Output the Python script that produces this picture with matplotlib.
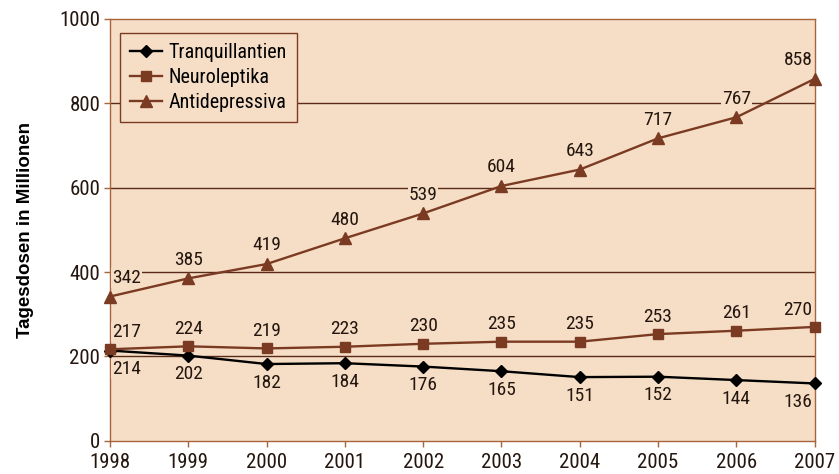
import numpy as np
import matplotlib
matplotlib.use("Agg")
import matplotlib.pyplot as plt

years = [1998, 1999, 2000, 2001, 2002, 2003, 2004, 2005, 2006, 2007]
tranq = [214, 202, 182, 184, 176, 165, 151, 152, 144, 136]
neuro = [217, 224, 219, 223, 230, 235, 235, 253, 261, 270]
antidep = [342, 385, 419, 480, 539, 604, 643, 717, 767, 858]
yticks = [0, 200, 400, 600, 800, 1000]

BG = "#f6dec6"
BROWN = "#7b3a22"
FRAME = "#a8643a"
TXT = "#24160f"
NARROW = ["Liberation Sans Narrow", "DejaVu Sans Condensed", "Roboto Condensed", "DejaVu Sans"]

fig = plt.figure(figsize=(8.39, 4.74), dpi=100)
ax = fig.add_axes([0.131, 0.070, 0.840, 0.890])
ax.set_facecolor(BG)

for y in yticks[1:-1]:
    ax.axhline(y, color="#5a2a18", linewidth=1.0, zorder=1)

ax.plot(years, tranq, color="black", marker="D", markersize=6.5, linewidth=1.7,
        label="Tranquillantien", zorder=3, clip_on=False)
ax.plot(years, neuro, color=BROWN, marker="s", markersize=7.5, linewidth=1.7,
        label="Neuroleptika", zorder=3, clip_on=False)
ax.plot(years, antidep, color=BROWN, marker="^", markersize=8.5, linewidth=1.7,
        label="Antidepressiva", zorder=3, clip_on=False)

lbl = dict(fontsize=14, family=NARROW, color=TXT, ha="center", zorder=4,
           bbox=dict(facecolor=BG, edgecolor="none", pad=0.5))


def dx(x):
    # nudge the labels at both ends inside the frame
    if x == years[0]:
        return 12
    if x == years[-1]:
        return -12
    return 0


for x, v in zip(years, antidep):
    ax.annotate(str(v), (x, v), xytext=(dx(x), 7), textcoords="offset points", va="bottom", **lbl)
for x, v in zip(years, neuro):
    ax.annotate(str(v), (x, v), xytext=(dx(x), 6), textcoords="offset points", va="bottom", **lbl)
for x, v in zip(years, tranq):
    ax.annotate(str(v), (x, v), xytext=(dx(x), -7), textcoords="offset points", va="top", **lbl)

ax.set_xlim(1998, 2007)
ax.set_ylim(0, 1000)
ax.set_xticks(years)
ax.set_yticks(yticks)
ax.set_xticklabels([str(y) for y in years], family=NARROW, fontsize=15)
ax.set_yticklabels([str(y) for y in yticks], family=NARROW, fontsize=15)
ax.tick_params(colors=FRAME, length=4, width=1.0, labelcolor=TXT)
ax.tick_params(axis="x", pad=5)
ax.tick_params(axis="y", pad=3)
for s in ax.spines.values():
    s.set_color(FRAME)
    s.set_linewidth(1.0)

ax.set_ylabel("Tagesdosen in Millionen", family="Liberation Sans", fontweight="bold",
              fontsize=13.5, color="black", labelpad=18)

leg = ax.legend(loc="upper left", bbox_to_anchor=(0.0, 0.99),
                prop={"family": NARROW, "size": 14.5},
                frameon=True, fancybox=False, handlelength=1.6, handletextpad=0.3,
                borderpad=0.5, labelspacing=0.3)
leg.get_frame().set_facecolor(BG)
leg.get_frame().set_edgecolor(BROWN)
leg.get_frame().set_alpha(1)

fig.savefig("out.png", dpi=100)
